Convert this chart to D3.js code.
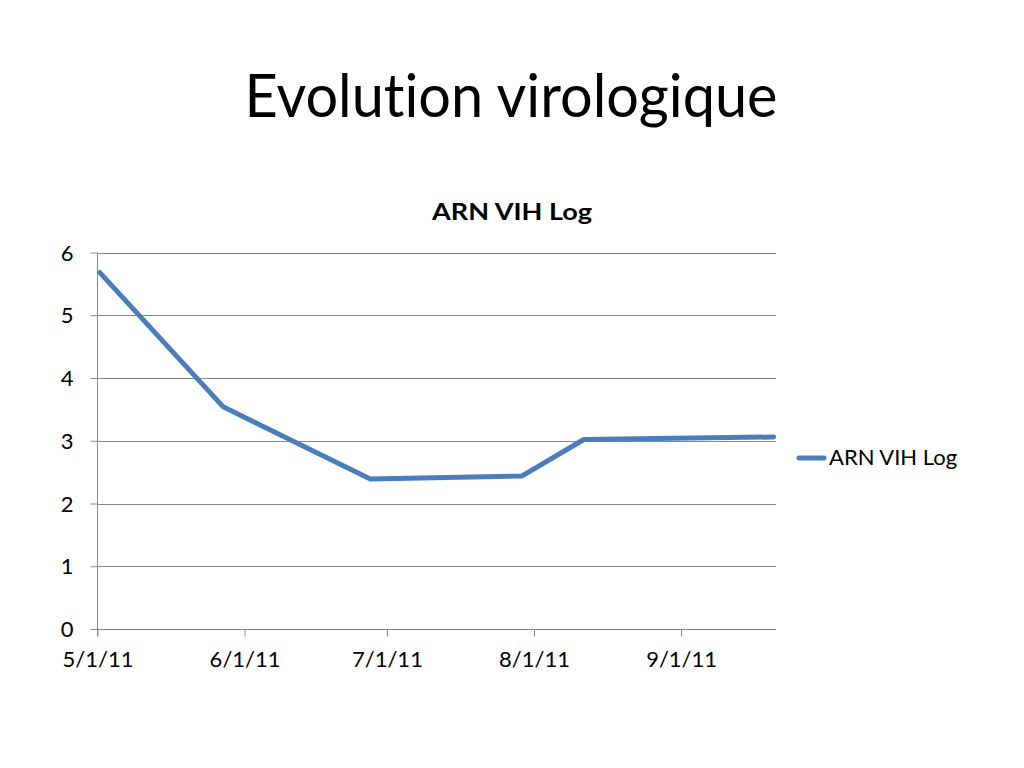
<!DOCTYPE html>
<html><head><meta charset="utf-8">
<script src="https://cdn.jsdelivr.net/npm/d3@7"></script>
<style>body{margin:0;background:#fff}svg{display:block}text{font-family:Lato,"Open Sans",sans-serif;fill:#000;font-variant-ligatures:none;font-feature-settings:"liga" 0,"clig" 0}</style>
</head><body>
<svg id="c" width="1024" height="768"></svg>
<script>
const dates = ["2011-05-01","2011-05-27","2011-06-27","2011-07-29","2011-08-11","2011-09-20"];
const values = [5.68, 3.54, 2.39, 2.44, 3.02, 3.06];
const xTicks = ["2011-05-01","2011-06-01","2011-07-01","2011-08-01","2011-09-01"];
const yTicks = [0,1,2,3,4,5,6];
const seriesName = "ARN VIH Log";
const mainTitle = "Evolution virologique";

const svg = d3.select("#c");
const parse = d3.utcParse("%Y-%m-%d");
const fmt = d => (d.getUTCMonth()+1) + "/" + d.getUTCDate() + "/" + String(d.getUTCFullYear()).slice(2);
const dayMs = 864e5;
const x0 = parse(dates[0]), x1 = new Date(+parse(dates[dates.length-1]) + dayMs);
const x = d3.scaleUtc().domain([x0, x1]).range([97.5, 776]);
const y = d3.scaleLinear().domain([0, 6]).range([629, 252.5]);
const blue = "#4a7ebb";

svg.append("text").attr("x", 511).attr("y", 117).attr("text-anchor","middle")
  .attr("font-size", 60).attr("textLength", 533).attr("lengthAdjust","spacingAndGlyphs").text(mainTitle);
svg.append("text").attr("x", 512).attr("y", 220).attr("text-anchor","middle")
  .attr("font-size", 23).attr("font-weight","bold").attr("textLength", 160).attr("lengthAdjust","spacingAndGlyphs").text(seriesName);

// gridlines
svg.append("g").selectAll("line").data(yTicks.filter(t=>t>0)).join("line")
  .attr("x1", 97.5).attr("x2", 776).attr("y1", d=>Math.round(y(d))+0.5).attr("y2", d=>Math.round(y(d))+0.5)
  .attr("stroke", "#898989").attr("stroke-width", 1);

// y axis
const ya = svg.append("g").attr("transform","translate(97.5,0)")
  .call(d3.axisLeft(y).tickValues(yTicks).tickSize(7).tickPadding(17).tickFormat(d3.format("d")));
ya.select(".domain").attr("stroke","#898989").attr("d","M0,252.5V636");
ya.selectAll(".tick line").attr("stroke","#898989");
ya.selectAll(".tick text").attr("font-size", 22).attr("font-family","Lato,'Open Sans',sans-serif").attr("fill","#000").attr("dy","0.35em");

// x axis
const xa = svg.append("g").attr("transform","translate(0,629.5)")
  .call(d3.axisBottom(x).tickValues(xTicks.map(parse)).tickSize(7).tickPadding(15).tickFormat(fmt));
xa.select(".domain").attr("stroke","#898989").attr("d","M97.5,0H776");
xa.selectAll(".tick line").attr("stroke","#898989");
xa.selectAll(".tick text").attr("font-size", 22).attr("font-family","Lato,'Open Sans',sans-serif").attr("fill","#000");

// line
const pts = dates.map((d,i)=>({d: new Date(+parse(d) + dayMs/2), v: values[i]}));
svg.append("path").datum(pts)
  .attr("d", d3.line().x(p=>x(p.d)).y(p=>y(p.v)))
  .attr("fill","none").attr("stroke", blue).attr("stroke-width", 5)
  .attr("stroke-linejoin","round").attr("stroke-linecap","round");

// legend
svg.append("line").attr("x1", 799).attr("x2", 824).attr("y1", 458).attr("y2", 458)
  .attr("stroke", blue).attr("stroke-width", 5).attr("stroke-linecap","round");
svg.append("text").attr("x", 829).attr("y", 465).attr("font-size", 22).text(seriesName);
</script>
</body></html>
